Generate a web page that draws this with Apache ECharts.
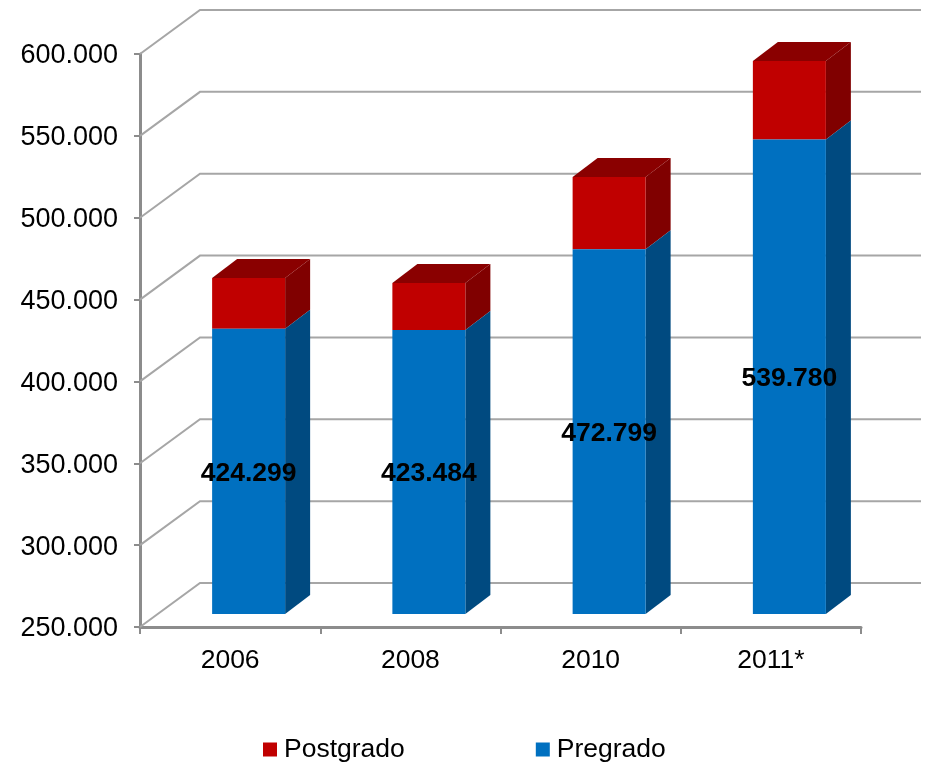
<!DOCTYPE html>
<html>
<head>
<meta charset="utf-8">
<style>
  html, body { margin: 0; padding: 0; background: #fff; }
  #chart { width: 926px; height: 764px; }
</style>
<script src="https://cdn.jsdelivr.net/npm/echarts@6/dist/echarts.min.js"></script>
</head>
<body>
<div id="chart"></div>
<script>
var categories = ['2006', '2008', '2010', '2011*'];
var pregrado = [424299, 423484, 472799, 539780];
var postgrado = [30900, 28700, 44200, 48000];
var yTicks = [250000, 300000, 350000, 400000, 450000, 500000, 550000, 600000];

var font = '"Liberation Sans", Arial, sans-serif';
var gridColor = '#a6a6a6';
var axisColor = '#8c8c8c';

// fake 3D: how far the wall and the bar sides go back
var wallDx = 60, wallDy = -44;
var barShiftX = 18.5, barShiftY = -13;
var depthX = 25, depthY = -19;

function fmt(v) {
    return String(v).replace(/\B(?=(\d{3})+$)/g, '.');
}

var renderWall = function (params, api) {
    var cs = params.coordSys;
    var y = api.coord([0, api.value(0)])[1];
    var x0 = cs.x, x1 = cs.x + cs.width;
    return {
        type: 'polyline',
        silent: true,
        shape: {points: [[x0, y], [x0 + wallDx, y + wallDy], [x1 + wallDx, y + wallDy]]},
        style: {stroke: gridColor, lineWidth: 2, fill: null}
    };
};

var renderBar = function (colors, showTop, showLabel) {
    return function (params, api) {
        var idx = api.value(0);
        var low = api.coord([idx, api.value(1)]);
        var high = api.coord([idx, api.value(2)]);
        var w = api.size([1, 0])[0] * 0.405;
        var l = low[0] + barShiftX - w / 2, r = l + w;
        var yb = low[1] + barShiftY, yt = high[1] + barShiftY;
        var children = [{
            type: 'polygon',
            shape: {points: [[r, yb], [r + depthX, yb + depthY], [r + depthX, yt + depthY], [r, yt]]},
            style: {fill: colors.side}
        }, {
            type: 'rect',
            shape: {x: l, y: yt, width: w, height: yb - yt},
            style: {fill: colors.front}
        }];
        if (showTop) {
            children.push({
                type: 'polygon',
                shape: {points: [[l, yt], [l + depthX, yt + depthY], [r + depthX, yt + depthY], [r, yt]]},
                style: {fill: colors.top}
            });
        }
        if (showLabel) {
            children.push({
                type: 'text',
                style: {
                    text: fmt(api.value(2)),
                    x: (l + r) / 2,
                    y: (yb + yt) / 2 + 2,
                    align: 'center',
                    verticalAlign: 'middle',
                    fill: '#000',
                    font: 'bold 26.5px ' + font
                }
            });
        }
        return {type: 'group', children: children};
    };
};

var preData = categories.map(function (c, i) {
    return [i, yTicks[0], pregrado[i]];
});
var postData = categories.map(function (c, i) {
    return [i, pregrado[i], pregrado[i] + postgrado[i]];
});

var chart = echarts.init(document.getElementById('chart'));

var option = {
    animation: false,
    backgroundColor: '#fff',
    grid: {left: 140, right: 65, top: 54, bottom: 137},
    legend: {
        data: ['Postgrado', 'Pregrado'],
        left: 258,
        top: 731,
        icon: 'rect',
        itemWidth: 14,
        itemHeight: 14,
        itemGap: 131,
        textStyle: {fontFamily: font, fontSize: 26.5, color: '#000', padding: [2, 0, 0, 2]},
        selectedMode: false
    },
    xAxis: {
        type: 'category',
        data: categories,
        axisLine: {lineStyle: {color: axisColor, width: 3}},
        axisTick: {show: true, length: 7, alignWithLabel: false, lineStyle: {color: axisColor, width: 2}},
        axisLabel: {fontFamily: font, fontSize: 26.5, color: '#000', margin: 20}
    },
    yAxis: {
        type: 'value',
        min: yTicks[0],
        max: yTicks[yTicks.length - 1],
        interval: 50000,
        splitLine: {show: false},
        axisLine: {show: true, lineStyle: {color: axisColor, width: 3}},
        axisTick: {show: true, length: 6, lineStyle: {color: axisColor, width: 2}},
        axisLabel: {
            color: '#000',
            margin: 22,
            formatter: function (v) { return '{t|' + fmt(v) + '}'; },
            rich: {t: {fontFamily: font, fontSize: 27, color: '#000', padding: [4, 0, 0, 0]}}
        }
    },
    series: [{
        name: 'walls',
        type: 'custom',
        z: 1,
        silent: true,
        clip: false,
        renderItem: renderWall,
        encode: {y: 0},
        data: yTicks.map(function (v) { return [v]; })
    }, {
        name: 'Pregrado',
        type: 'custom',
        z: 3,
        clip: false,
        itemStyle: {color: '#0070c0'},
        renderItem: renderBar({front: '#0070c0', side: '#004a80'}, false, true),
        encode: {x: 0, y: 2},
        data: preData
    }, {
        name: 'Postgrado',
        type: 'custom',
        z: 2,
        clip: false,
        itemStyle: {color: '#c00000'},
        renderItem: renderBar({front: '#c00000', side: '#800000', top: '#8a0000'}, true, false),
        encode: {x: 0, y: 2},
        data: postData
    }]
};

chart.setOption(option);
</script>
</body>
</html>
